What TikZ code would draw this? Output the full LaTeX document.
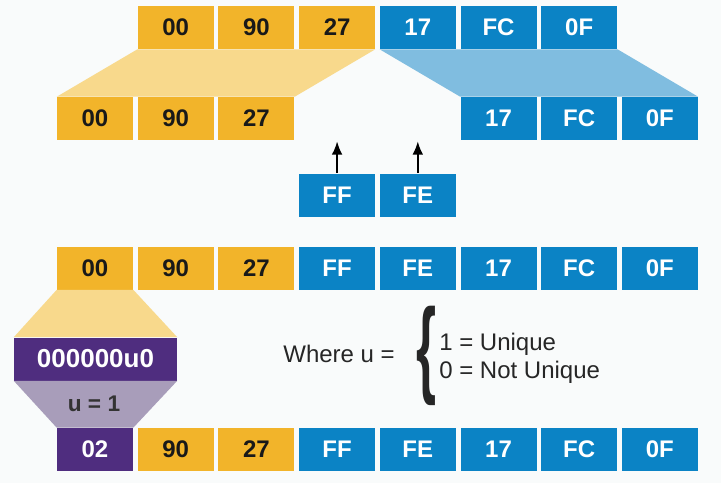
\documentclass[tikz,border=0pt]{standalone}
\usepackage{fontspec}
\setmainfont{Liberation Sans}
\newfontfamily\boxfont{Liberation Sans}
\usepackage{tikz}
\usetikzlibrary{positioning,arrows.meta,calc}
\definecolor{macyellow}{HTML}{F2B42A}
\definecolor{macyellowlight}{HTML}{F8D98C}
\definecolor{macblue}{HTML}{0B83C5}
\definecolor{macbluelight}{HTML}{80BDE0}
\definecolor{macpurple}{HTML}{4F2D7F}
\definecolor{macpurplelight}{HTML}{A89DBA}
\definecolor{pagebg}{HTML}{F9FBFB}

\begin{document}
\begin{tikzpicture}[x=0.75pt, y=-0.75pt,
    byte/.style={minimum width=57pt, minimum height=32.25pt, inner sep=0pt,
                 font=\boxfont\bfseries\fontsize{18}{20}\selectfont},
    ybyte/.style={byte, fill=macyellow, text=black!90},
    bbyte/.style={byte, fill=macblue, text=white},
    pbyte/.style={byte, fill=macpurple, text=white},
    txt/.style={font=\fontsize{18}{20}\selectfont, text=black!85, inner sep=0pt}]
        % Page
        \useasboundingbox[fill=pagebg] (0,0) rectangle (721,483);

        % Top row: the MAC address
        \foreach \c/\t in {1/00,2/90,3/27}
            \node[ybyte] (t\c) at ({95+80.7*\c},27.5) {\t};
        \foreach \c/\t in {4/17,5/FC,6/0F}
            \node[bbyte] (t\c) at ({95+80.7*\c},27.5) {\t};

        % Split into OUI and device part
        \foreach \c/\t in {0/00,1/90,2/27}
            \node[ybyte] (m\c) at ({95+80.7*\c},118.5) {\t};
        \foreach \c/\t in {5/17,6/FC,7/0F}
            \node[bbyte] (m\c) at ({95+80.7*\c},118.5) {\t};

        % Inserted bytes
        \node[bbyte] (ff) at ({95+80.7*3},195) {FF};
        \node[bbyte] (fe) at ({95+80.7*4},195) {FE};
        \coordinate (ffup) at ($(ff.north)+(0,-32)$);
        \coordinate (feup) at ($(fe.north)+(0,-32)$);

        % Result after insertion
        \foreach \c/\t in {0/00,1/90,2/27}
            \node[ybyte] (e\c) at ({95+80.7*\c},268) {\t};
        \foreach \c/\t in {3/FF,4/FE,5/17,6/FC,7/0F}
            \node[bbyte] (e\c) at ({95+80.7*\c},268) {\t};

        % Final EUI-64
        \node[pbyte] (f0) at (95,449.5) {02};
        \foreach \c/\t in {1/90,2/27}
            \node[ybyte] (f\c) at ({95+80.7*\c},449.5) {\t};
        \foreach \c/\t in {3/FF,4/FE,5/17,6/FC,7/0F}
            \node[bbyte] (f\c) at ({95+80.7*\c},449.5) {\t};

        % Bit mask box
        \node[byte, fill=macpurple, text=white, minimum width=122.25pt,
              font=\boxfont\bfseries\fontsize{19.5}{21}\selectfont] (mask) at (95.5,359) {000000u0};

        % Funnels
        \fill[macyellowlight] (t1.south west) -- (t3.south east) -- (m2.north east) -- (m0.north west) -- cycle;
        \fill[macbluelight] (t4.south west) -- (t6.south east) -- (m7.north east) -- (m5.north west) -- cycle;
        \fill[macyellowlight] (e0.south west) -- (e0.south east) -- (mask.north east) -- (mask.north west) -- cycle;
        \fill[macpurplelight] (mask.south west) -- (mask.south east) -- (f0.north east) -- (f0.north west) -- cycle;
        \node[font=\boxfont\bfseries\fontsize{17}{19}\selectfont, text=black!80, inner sep=0pt] (uval) at (94,404) {u = 1};

        % Arrows
        \draw[-{Latex[length=10pt,width=8pt]}, line width=1.5pt] (ff.north) -- (ffup);
        \draw[-{Latex[length=10pt,width=8pt]}, line width=1.5pt] (fe.north) -- (feup);

        % Legend
        \node[txt, anchor=base east] (where) at (395,362.8) {Where u =};
        \node[inner sep=0pt, text=black!85] (brace) at (426,356) {\resizebox{15pt}{58pt}{\bfseries\{}};
        \node[txt, anchor=base west] (one) at (439,350.6) {1 = Unique};
        \node[txt, anchor=base west] (zero) at (439,378.6) {0 = Not Unique};
    \end{tikzpicture}
\end{document}
